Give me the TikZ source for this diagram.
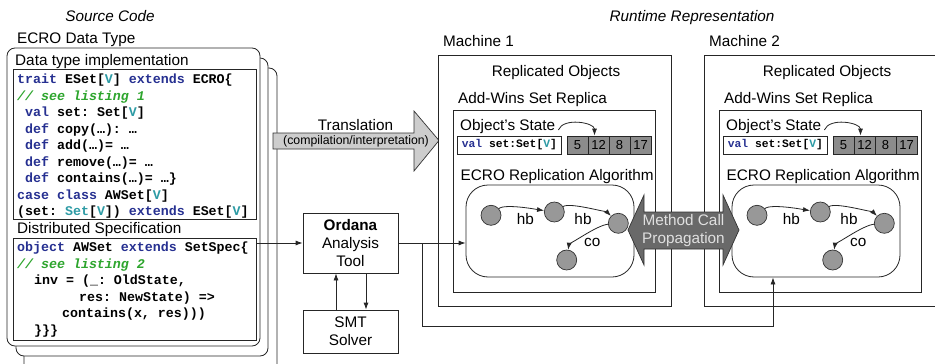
\documentclass[tikz,border=0pt]{standalone}
\usepackage{fontspec}
\setmainfont{Liberation Sans}
\setmonofont{Liberation Mono}
\usetikzlibrary{arrows.meta}

\definecolor{kwblue}{RGB}{38,48,145}
\definecolor{tyteal}{RGB}{45,155,165}
\definecolor{cmtgreen}{RGB}{45,165,45}
\definecolor{cellgray}{RGB}{140,140,140}
\definecolor{dotgray}{RGB}{152,152,152}
\definecolor{transgray}{RGB}{205,205,205}
\definecolor{propgray}{RGB}{105,105,105}

\newcommand{\kw}[1]{\textcolor{kwblue}{#1}}
\newcommand{\ty}[1]{\textcolor{tyteal}{#1}}
\newcommand{\cmt}[1]{\textcolor{cmtgreen}{\itshape #1}}
\newcommand{\lblsize}{\fontsize{15.3}{18}\selectfont}
\newcommand{\codesize}{\fontsize{13.3}{16.5}\selectfont}

\tikzset{
  lbl/.style={font=\lblsize, inner sep=0pt},
  code/.style={font=\codesize\ttfamily\bfseries, align=left, inner sep=0pt},
  box/.style={draw=black!85, line width=0.8pt, fill=white},
  frame/.style={draw=black!85, fill=white, rounded corners=8pt, line width=0.8pt},
  arr/.style={draw=black!85, line width=0.8pt, -{Latex[length=7pt,width=5pt]}},
  dot/.style={circle, draw=black!80, line width=0.7pt, fill=dotgray, minimum size=20pt, inner sep=0pt},
  cell/.style={draw=black!85, line width=0.8pt, fill=cellgray, minimum width=21pt, minimum height=18pt, inner sep=0pt, font=\fontsize{13}{15}\selectfont},
  blob/.style={draw=black!85, line width=0.8pt, rounded corners=22pt, minimum width=168pt, minimum height=92pt}
}

\begin{document}
\begin{tikzpicture}[x=1pt,y=1pt,yscale=-1]
\fill[white] (0,0) rectangle (935,364);
\useasboundingbox (0,0) rectangle (935,364);

% headings
\node[lbl, font=\lblsize\itshape, anchor=base] (srchead) at (110,21.5) {Source Code};
\node[lbl, font=\lblsize\itshape, anchor=base] (runhead) at (692,21.5) {Runtime Representation};
\node[lbl, anchor=base west] (ecro) at (17,43) {ECRO Data Type};

% stacked pages
\draw[frame] (24,68) rectangle (277,380);
\draw[frame] (16,58) rectangle (268,356);
\draw[frame] (7,48) rectangle (260,346);

\node[lbl, anchor=base west] (implhead) at (15,65.5) {Data type implementation};
\node[box, minimum width=243pt, minimum height=150pt, anchor=north west] (impl) at (13,69) {};
\node[code, anchor=north west] (impltext) at (17,74) {%
\kw{trait} ESet[\ty{V}] \kw{extends} ECRO\{\\
\cmt{// see listing 1}\\
\hspace*{8pt}\kw{val} set: Set[\ty{V}]\\
\hspace*{8pt}\kw{def} copy(…): …\\
\hspace*{8pt}\kw{def} add(…)= …\\
\hspace*{8pt}\kw{def} remove(…)= …\\
\hspace*{8pt}\kw{def} contains(…)= …\}\\
\kw{case class} AWSet[\ty{V}]\\
(set: \ty{Set}[\ty{V}]) \kw{extends} ESet[\ty{V}]};

\node[lbl, anchor=base west] (spechead) at (17,233) {Distributed Specification};
\node[box, minimum width=243pt, minimum height=102pt, anchor=north west] (spec) at (13,238) {};
\node[code, anchor=north west] (spectext) at (17,242) {%
\kw{object} AWSet \kw{extends} SetSpec\{\\
\cmt{// see listing 2}\\
\hspace*{17pt}inv = (\_: OldState,\\
\hspace*{62pt}res: NewState) =>\\
\hspace*{45pt}contains(x, res)))\\
\hspace*{17pt}\}\}\}};

% translation arrow
\filldraw[fill=transgray, draw=black!80, line width=0.7pt] (273,133) -- (414,133) -- (414,111) -- (439,140.5)
  -- (414,171) -- (414,149) -- (273,149) -- cycle;
\node[lbl, anchor=base] (transl) at (355.5,130) {Translation};
\node[anchor=base, inner sep=0pt, font=\fontsize{12.3}{14}\selectfont] (compint) at (356,144.5) {(compilation/interpretation)};

% analysis tool
\node[box, minimum width=95pt, minimum height=60pt, align=center, font=\lblsize] (ordana) at (350.5,243) {\textbf{Ordana}\\Analysis\\Tool};
\node[box, minimum width=95pt, minimum height=43pt, align=center, font=\lblsize] (smt) at (350.5,331.5) {SMT\\Solver};

% machines
\foreach \m/\dx/\rx in {1/0/556, 2/266/827} {
  \node[box, anchor=north west, minimum width=233pt, minimum height=251pt] (mach\m) at ({438+\dx},55) {};
  \node[lbl, anchor=base west] (machlbl\m) at ({443+\dx},46.5) {Machine \m};
  \node[lbl, anchor=base] (repobj\m) at (\rx,76.5) {Replicated Objects};
  \node[lbl, anchor=base west] (awset\m) at ({458+\dx},103) {Add-Wins Set Replica};
  \node[box, anchor=north west, minimum width=202pt, minimum height=182pt] (rep\m) at ({453+\dx},110) {};
  \node[lbl, anchor=base west] (ostate\m) at ({460+\dx},130) {Object’s State};
  \node[box, anchor=west, minimum width=104pt, minimum height=18pt, inner sep=0pt,
        font=\fontsize{11.3}{13}\selectfont\ttfamily\bfseries] (val\m) at ({457+\dx},145) {\kw{val} set:Set[\ty{V}]};
  \foreach \v [count=\i] in {5,12,8,17}
    \node[cell] (cell\m-\i) at ({577.5+\dx+21*(\i-1)},145) {\v};
  \draw[arr] ([xshift=3pt]ostate\m.base east) .. controls +(5,-13) and +(0,-13) .. ([xshift=-4pt]cell\m-2.north);
  \node[lbl, anchor=base west] (algo\m) at ({460.5+\dx},180.5) {ECRO Replication Algorithm};
  \node[blob] (blob\m) at ({550+\dx},231) {};
  \node[dot] (dotA\m) at ({491+\dx},215.3) {};
  \node[dot] (dotB\m) at ({554.3+\dx},212) {};
  \node[dot] (dotC\m) at ({618.3+\dx},223.3) {};
  \node[dot] (dotD\m) at ({566.7+\dx},260) {};
  \draw[arr] (dotA\m) .. controls +(14,-12) and +(-14,-2) .. (dotB\m);
  \draw[arr] (dotB\m) .. controls +(16,-10) and +(-10,-10) .. (dotC\m);
  \draw[arr] (dotC\m) .. controls +(-22,2) and +(2,-14) .. (dotD\m);
  \node[lbl] (hbA\m) at ({525.3+\dx},218.7) {hb};
  \node[lbl] (hbB\m) at ({583+\dx},218.7) {hb};
  \node[lbl] (co\m) at ({592.3+\dx},242.8) {co};
}

% method call propagation
\filldraw[fill=propgray, draw=black!80, line width=0.7pt] (628,230) -- (644,195) -- (644,212) -- (723,212)
  -- (723,195) -- (739,230) -- (723,265) -- (723,249) -- (644,249) -- (644,265) -- cycle;
\node[lbl, align=center, text=black!12] (mcp) at (683.5,231) {Method Call\\Propagation};

% connectors
\coordinate (junc) at (422,243);
\coordinate (lowturn) at (773,326);
\draw[arr] (spec.east |- ordana.west) -- (ordana.west);
\draw[arr] (ordana.east) -- (ordana.east -| blob1.west);
\draw[arr] (junc) |- (lowturn) -- (lowturn |- blob2.south);
\draw[arr] ([xshift=-14.5pt]smt.north) -- ([xshift=-14.5pt]ordana.south);
\draw[arr] ([xshift=15.5pt]ordana.south) -- ([xshift=15.5pt]smt.north);

\end{tikzpicture}
\end{document}
